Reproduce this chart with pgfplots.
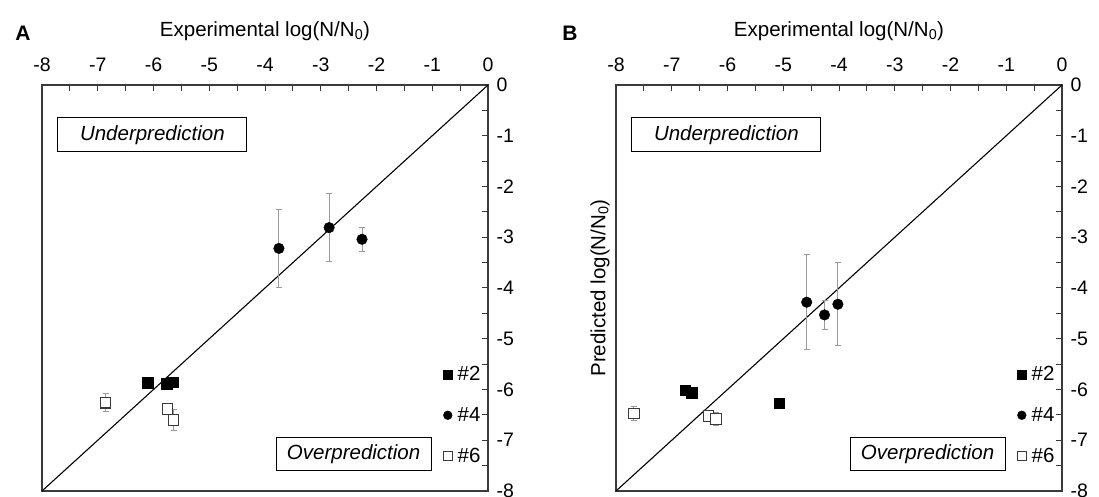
\documentclass[border=0pt]{standalone}
\usepackage{fontspec}
\setmainfont{Liberation Sans}
\usepackage{pgfplots}
\pgfplotsset{compat=1.18}
\definecolor{axgray}{HTML}{3A3A3A}
\definecolor{ebgray}{HTML}{9A9A9A}

\pgfplotstableread{
x y
-6.10 -5.87
-5.76 -5.88
-5.66 -5.86
}\Atwo
\pgfplotstableread{
x y e
-3.75 -3.22 0.76
-2.85 -2.81 0.67
-2.26 -3.04 0.23
}\Afour
\pgfplotstableread{
x y e
-6.86 -6.26 0.18
-5.75 -6.38 0
-5.64 -6.60 0.21
}\Asix
\pgfplotstableread{
x y
-6.76 -6.01
-6.64 -6.06
-5.07 -6.27
}\Btwo
\pgfplotstableread{
x y e
-4.58 -4.28 0.94
-4.26 -4.53 0.28
-4.02 -4.32 0.82
}\Bfour
\pgfplotstableread{
x y e
-7.68 -6.47 0.14
-6.34 -6.52 0
-6.21 -6.58 0.13
}\Bsix

\newcommand{\lblfont}{\fontsize{20.5}{23}\selectfont}
\newcommand{\tckfont}{\fontsize{19.5}{22}\selectfont}
\tikzset{boxtxt/.style={draw=black, line width=1pt, inner sep=0pt, font=\itshape\lblfont, fill=white}}
\pgfplotsset{
  panel/.style={
    scale only axis, width=446pt, height=406pt,
    xmin=-8, xmax=0, ymin=-8, ymax=0,
    xtick={-8,-7,...,0}, ytick={-8,-7,...,0},
    minor tick num=1,
    xtick pos=upper, ytick pos=upper,
    xticklabel pos=upper, yticklabel pos=upper,
    tick align=inside,
    major tick length=6pt, minor tick length=6pt,
    every tick/.style={axgray, line width=1pt},
    every minor tick/.style={axgray, line width=1pt},
    axis line style={axgray, line width=1.8pt},
    tick label style={font=\tckfont},
    /pgf/number format/assume math mode=true,
    xticklabel shift=10pt,
    yticklabel shift=5pt,
    xlabel={Experimental log(N/N\textsubscript{0})},
    xlabel style={font=\lblfont, at={(axis description cs:0.5,1)}, anchor=center, yshift=54pt},
    legend style={at={(rel axis cs:1,0.31)}, anchor=north east, xshift=-6pt,
      draw=none, fill=none, inner sep=0pt, outer sep=0pt, row sep=22pt,
      font=\lblfont, legend cell align=left,
      nodes={inner sep=1.5pt},
      /tikz/every odd column/.append style={column sep=4pt}},
    clip=false,
  },
  mk/.style={only marks, mark size=5.3pt,
    legend image code/.code={\draw[##1, mark size=4.4pt] plot coordinates {(0pt,0pt)};}},
  s2/.style={mk, mark=square*, mark options={fill=black, draw=black}},
  s4/.style={mk, mark=*, mark options={fill=black, draw=black}},
  s6/.style={mk, mark=square*, mark options={fill=white, draw=axgray, line width=1.1pt}},
  eb/.style={error bars/.cd, y dir=both, y explicit,
    error bar style={ebgray, line width=0.9pt},
    error mark options={rotate=90, ebgray, mark size=3pt, line width=0.9pt}},
}

\begin{document}
\begin{tikzpicture}
\useasboundingbox (0,0) rectangle (1099pt,497pt);

\begin{axis}[panel, at={(42pt,6pt)}, anchor=south west]
\addplot[black, line width=1.1pt, forget plot] coordinates {(-8,-8) (0,0)};
\node[boxtxt, minimum width=189pt, minimum height=34pt] at (axis cs:-6.02,-0.985) {Underprediction};
\node[boxtxt, minimum width=155pt, minimum height=33pt] at (axis cs:-2.41,-7.28) {Overprediction};
\addplot[s2] table[x=x,y=y] {\Atwo};
\addlegendentry{\#2}
\addplot[s4, eb] table[x=x,y=y,y error=e] {\Afour};
\addlegendentry{\#4}
\addplot[s6, eb] table[x=x,y=y,y error=e] {\Asix};
\addlegendentry{\#6}
\end{axis}

\begin{axis}[panel, at={(616pt,6pt)}, anchor=south west,
  ylabel={Predicted log(N/N\textsubscript{0})},
  ylabel style={font=\lblfont, at={(axis description cs:0,0.5)}, anchor=center, yshift=16pt}]
\addplot[black, line width=1.1pt, forget plot] coordinates {(-8,-8) (0,0)};
\node[boxtxt, minimum width=189pt, minimum height=34pt] at (axis cs:-6.02,-0.985) {Underprediction};
\node[boxtxt, minimum width=155pt, minimum height=33pt] at (axis cs:-2.41,-7.28) {Overprediction};
\addplot[s2] table[x=x,y=y] {\Btwo};
\addlegendentry{\#2}
\addplot[s4, eb] table[x=x,y=y,y error=e] {\Bfour};
\addlegendentry{\#4}
\addplot[s6, eb] table[x=x,y=y,y error=e] {\Bsix};
\addlegendentry{\#6}
\end{axis}

\node[font=\bfseries\fontsize{21}{23}\selectfont] at (23pt,464pt) {A};
\node[font=\bfseries\fontsize{21}{23}\selectfont] at (570pt,464pt) {B};
\end{tikzpicture}
\end{document}
